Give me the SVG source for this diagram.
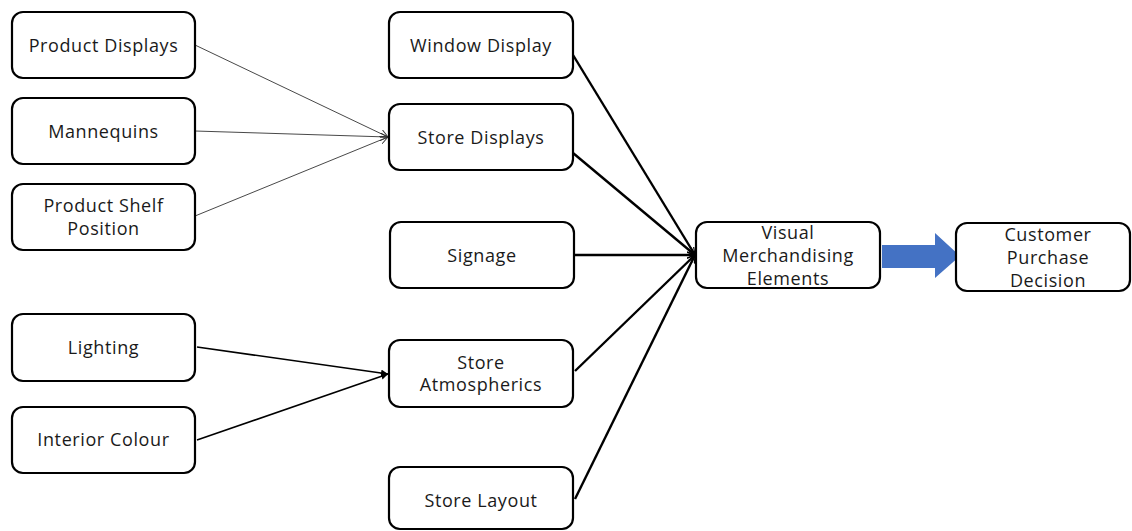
<svg xmlns="http://www.w3.org/2000/svg" width="1132" height="531" viewBox="0 0 1132 531">
<style>
.box{fill:#fff;stroke:#000;stroke-width:2.2}
.t{font-family:"Open Sans","Noto Sans",sans-serif;font-size:18px;letter-spacing:0.6px;fill:#1a1a1a;text-anchor:middle;dominant-baseline:central}
.thin{stroke:#333;stroke-width:0.9;fill:none}
.med{stroke:#000;stroke-width:1.6;fill:none}
.thick{stroke:#000;stroke-width:2.4;fill:none}
</style>
<defs>
<marker id="ao" viewBox="0 0 10 10" refX="10" refY="5" markerWidth="8" markerHeight="8" markerUnits="userSpaceOnUse" orient="auto"><path d="M0,0 L10,5 L0,10" fill="none" stroke="#333" stroke-width="1.2"/></marker>
<marker id="af" viewBox="0 0 10 10" refX="10" refY="5" markerWidth="7" markerHeight="7" markerUnits="userSpaceOnUse" orient="auto"><path d="M0,0 L10,5 L0,10 Z" fill="#000"/></marker>
<marker id="ak" viewBox="0 0 10 10" refX="10" refY="5" markerWidth="8" markerHeight="8" markerUnits="userSpaceOnUse" orient="auto"><path d="M0,1 L10,5 L0,9" fill="none" stroke="#000" stroke-width="1.5"/></marker>
</defs>
<rect width="1132" height="531" fill="#fff"/>
<g id="connectors">
<line class="thin" x1="195" y1="45" x2="388" y2="137" marker-end="url(#ao)"/>
<line class="thin" x1="195" y1="131" x2="388" y2="137" marker-end="url(#ao)"/>
<line class="thin" x1="195" y1="216" x2="388" y2="137" marker-end="url(#ao)"/>
<line class="med" x1="197" y1="347" x2="388" y2="374" marker-end="url(#af)"/>
<line class="med" x1="197" y1="440" x2="388" y2="374" marker-end="url(#af)"/>
<line class="thick" x1="573" y1="55" x2="695" y2="255" marker-end="url(#ak)"/>
<line class="thick" x1="573" y1="153" x2="695" y2="255" marker-end="url(#ak)"/>
<line class="thick" x1="575" y1="255" x2="695" y2="255" marker-end="url(#ak)"/>
<line class="thick" x1="575" y1="371" x2="695" y2="255" marker-end="url(#ak)"/>
<line class="thick" x1="575" y1="499" x2="695" y2="255" marker-end="url(#ak)"/>
<polygon points="882,245 935,245 935,233 960,256 935,278 935,268 882,268" fill="#4472c4"/>
</g>
<g id="product-displays"><rect class="box" x="12" y="12" width="183" height="66" rx="11"/><text class="t" x="103.5" y="45">Product Displays</text></g>
<g id="mannequins"><rect class="box" x="12" y="98" width="183" height="66" rx="11"/><text class="t" x="103.5" y="131">Mannequins</text></g>
<g id="product-shelf-position"><rect class="box" x="12" y="184" width="183" height="66" rx="11"/><text class="t" x="103.5" y="205">Product Shelf</text><text class="t" x="103.5" y="228">Position</text></g>
<g id="lighting"><rect class="box" x="12" y="314" width="183" height="67" rx="11"/><text class="t" x="103.5" y="347">Lighting</text></g>
<g id="interior-colour"><rect class="box" x="12" y="407" width="183" height="66" rx="11"/><text class="t" x="103.5" y="439">Interior Colour</text></g>
<g id="window-display"><rect class="box" x="389" y="12" width="184" height="66" rx="11"/><text class="t" x="481" y="45">Window Display</text></g>
<g id="store-displays"><rect class="box" x="389" y="104" width="184" height="66" rx="11"/><text class="t" x="481" y="137">Store Displays</text></g>
<g id="signage"><rect class="box" x="390" y="222" width="184" height="66" rx="11"/><text class="t" x="482" y="255">Signage</text></g>
<g id="store-atmospherics"><rect class="box" x="389" y="340" width="184" height="67" rx="11"/><text class="t" x="481" y="362">Store</text><text class="t" x="481" y="384">Atmospherics</text></g>
<g id="store-layout"><rect class="box" x="389" y="467" width="184" height="62" rx="11"/><text class="t" x="481" y="500">Store Layout</text></g>
<g id="visual-merchandising"><rect class="box" x="696" y="222" width="184" height="66" rx="11"/><text class="t" x="788" y="232">Visual</text><text class="t" x="788" y="255">Merchandising</text><text class="t" x="788" y="278">Elements</text></g>
<g id="customer-purchase-decision"><rect class="box" x="956" y="223" width="174" height="68" rx="11"/><text class="t" x="1048" y="234">Customer</text><text class="t" x="1048" y="257">Purchase</text><text class="t" x="1048" y="280">Decision</text></g>
</svg>
